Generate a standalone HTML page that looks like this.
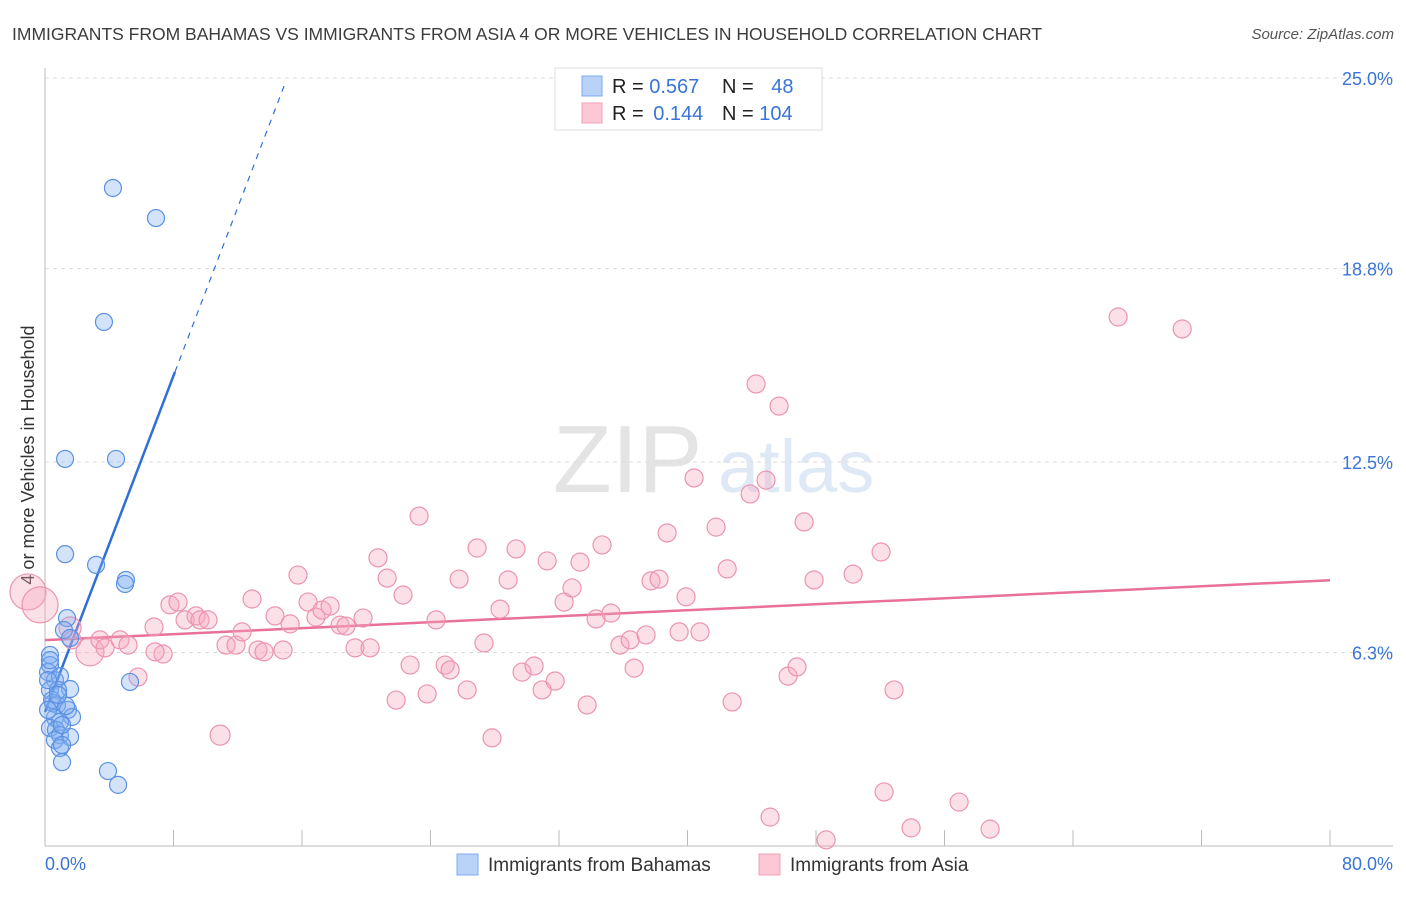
<!DOCTYPE html>
<html><head><meta charset="utf-8"><style>
body{margin:0;background:#fff;font-family:"Liberation Sans",sans-serif;}
svg text{font-family:"Liberation Sans",sans-serif;}
</style></head><body>
<svg id="chart" width="1406" height="892" xmlns="http://www.w3.org/2000/svg">
<text x="12" y="40" font-size="17.5" fill="#3c3c3c">IMMIGRANTS FROM BAHAMAS VS IMMIGRANTS FROM ASIA 4 OR MORE VEHICLES IN HOUSEHOLD CORRELATION CHART</text>
<text x="1394" y="39" font-size="15" fill="#555" font-style="italic" text-anchor="end">Source: ZipAtlas.com</text>
<text x="553" y="492" font-size="96" fill="#e4e4e4" font-family="Liberation Serif">ZIP</text>
<text x="718" y="492" font-size="74" fill="#dfe9f6">atlas</text>
<text transform="translate(34,455) rotate(-90)" font-size="18" fill="#333" text-anchor="middle">4 or more Vehicles in Household</text>
<g id="grid"></g><g id="axes"></g><g id="lines"></g><g id="pts"></g>
<g>
<rect x="555" y="68" width="267" height="62" fill="#fff" stroke="#ddd"/>
<rect x="582" y="76" width="20" height="20" fill="#b8d3f7" stroke="#7eaaf0"/>
<rect x="582" y="103" width="20" height="20" fill="#fcc8d6" stroke="#f0a0b8"/>
<text x="612" y="93" font-size="20" fill="#222">R = <tspan fill="#3a74d8">0.567</tspan></text>
<text x="722" y="93" font-size="20" fill="#222">N = <tspan fill="#3a74d8" dx="12">48</tspan></text>
<text x="612" y="120" font-size="20" fill="#222">R = <tspan fill="#3a74d8" dx="4">0.144</tspan></text>
<text x="722" y="120" font-size="20" fill="#222">N = <tspan fill="#3a74d8">104</tspan></text>
</g>
<g>
<rect x="457" y="854" width="21" height="21" fill="#b8d3f7" stroke="#7eaaf0"/>
<text x="488" y="871" font-size="19" fill="#333">Immigrants from Bahamas</text>
<rect x="759" y="854" width="21" height="21" fill="#fcc8d6" stroke="#f0a0b8"/>
<text x="790" y="871" font-size="19" fill="#333">Immigrants from Asia</text>
</g>
</svg>
<script>
const yTicks=[25.0,18.8,12.5,6.3];
const yTickLabels=["25.0%","18.8%","12.5%","6.3%"];
const xTickVals=[0,8,16,24,32,40,48,56,64,72,80];
const blueX=[4.23,6.91,3.67,1.25,4.42,1.25,3.18,5.04,4.98,1.37,1.18,1.56,0.31,0.31,0.19,0.62,0.93,0.31,1.56,0.81,0.5,0.75,1.43,1.68,0.62,0.93,0.31,0.68,0.93,1.56,0.62,0.93,1.06,3.92,4.55,5.29,0.19,0.44,0.19,1.31,1.06,0.31,0.81,1.06];
const blueY=[21.42,20.44,17.06,12.6,12.6,9.5,9.15,8.66,8.53,7.42,7.03,6.77,6.22,5.89,5.66,5.4,5.53,5.08,5.11,5.08,4.65,4.59,4.43,4.2,4.17,4.04,3.84,3.78,3.61,3.55,3.45,3.19,2.73,2.44,1.99,5.34,5.4,4.75,4.43,4.56,3.29,6.05,4.92,3.94];
const pinkX=[-1.06,-0.31,1.56,1.68,2.8,3.42,4.67,3.74,5.17,5.79,7.78,8.28,8.72,9.4,9.65,10.15,6.79,7.35,6.85,10.9,11.27,11.89,12.27,12.89,13.26,13.64,14.32,14.82,15.26,15.75,16.38,16.87,17.25,17.75,18.37,18.74,19.3,19.8,20.24,20.73,21.3,21.86,22.29,22.73,23.29,23.79,24.35,24.91,25.22,25.78,26.28,26.9,27.33,27.83,28.33,28.83,29.33,29.7,30.45,30.95,31.26,31.76,32.32,32.81,33.31,33.75,34.31,34.68,35.24,35.8,36.43,36.68,37.42,37.73,38.23,38.73,39.48,39.91,40.41,40.78,41.78,42.47,42.78,43.9,44.27,44.89,45.7,46.26,46.82,47.26,47.88,50.31,52.05,52.86,45.14,48.63,52.24,53.92,56.91,58.84,66.81,70.8];
const pinkY=[8.27,7.85,7.1,6.71,6.32,6.71,6.71,6.45,6.54,5.5,7.85,7.94,7.36,7.49,7.36,7.36,7.13,6.25,6.32,3.61,6.54,6.54,6.97,8.04,6.38,6.32,7.49,6.38,7.23,8.82,7.94,7.45,7.68,7.81,7.19,7.16,6.45,7.42,6.45,9.38,8.72,4.75,8.17,5.89,10.74,4.95,7.36,5.89,5.73,8.69,5.08,9.7,6.61,3.52,7.71,8.66,9.67,5.66,5.86,5.08,9.28,5.37,7.94,8.4,9.24,4.59,7.39,9.8,7.58,6.54,6.71,5.79,6.87,8.63,8.69,10.19,6.97,8.11,11.98,6.97,10.38,9.02,4.69,11.46,15.04,11.91,14.32,5.53,5.83,10.55,8.66,8.85,9.57,5.08,0.94,0.2,1.76,0.59,1.43,0.55,17.22,16.83];
const pinkR=[18,18,11,9,14,9,9,9,9,9,9,9,9,9,9,9,9,9,9,10];
const blueTrend=[[0,4.36],[8.09,15.43],[14.9,24.76]];
const pinkTrend=[[0,6.7],[80,8.65]];
const X0=45,X1=1330,Y0=846,YPX=30.72;
const sx=v=>X0+v*(X1-X0)/80, sy=v=>Y0-v*YPX;
const NS="http://www.w3.org/2000/svg";
function mk(tag,attrs,parent){const e=document.createElementNS(NS,tag);for(const k in attrs)e.setAttribute(k,attrs[k]);document.getElementById(parent).appendChild(e);return e;}
yTicks.forEach((t,i)=>{
  const l=mk('line',{x1:45,x2:1393,y1:sy(t),y2:sy(t),stroke:'#dcdcdc','stroke-dasharray':'4,4'},'grid');
  
  
  const tx=mk('text',{x:1393,y:sy(t)+7,'font-size':18,fill:'#3a74d8','text-anchor':'end'},'grid');
  tx.textContent=yTickLabels[i];
  
  
});
const ya=mk('line',{x1:45,x2:45,y1:68,y2:846,stroke:'#bbb'},'axes');


const xa=mk('line',{x1:45,x2:1393,y1:846,y2:846,stroke:'#bbb'},'axes');


xTickVals.forEach(v=>{
  const t=mk('line',{x1:sx(v),x2:sx(v),y1:830,y2:846,stroke:'#bbb'},'axes');
  
  
});
const xl0=mk('text',{x:45,y:870,'font-size':18,fill:'#3a74d8'},'axes');xl0.textContent='0.0%';


const xl1=mk('text',{x:1393,y:870,'font-size':18,fill:'#3a74d8','text-anchor':'end'},'axes');xl1.textContent='80.0%';


pinkX.forEach((x,i)=>{
  const c=mk('circle',{cx:sx(x),cy:sy(pinkY[i]),r:pinkR[i]||9,fill:'rgba(246,165,190,0.35)',stroke:'#eb94b0','stroke-width':1.2},'pts');
  
  
});
blueX.forEach((x,i)=>{
  const c=mk('circle',{cx:sx(x),cy:sy(blueY[i]),r:8.5,fill:'rgba(130,175,240,0.35)',stroke:'#5b91e3','stroke-width':1.2},'pts');
  
  
});
const pl=mk('line',{x1:sx(pinkTrend[0][0]),y1:sy(pinkTrend[0][1]),x2:sx(pinkTrend[1][0]),y2:sy(pinkTrend[1][1]),stroke:'#e8709a','stroke-width':2.5},'lines');


const bl=mk('line',{x1:sx(blueTrend[0][0]),y1:sy(blueTrend[0][1]),x2:sx(blueTrend[1][0]),y2:sy(blueTrend[1][1]),stroke:'#2f6fd6','stroke-width':2.5},'lines');


const bd=mk('line',{x1:sx(blueTrend[1][0]),y1:sy(blueTrend[1][1]),x2:sx(blueTrend[2][0]),y2:sy(blueTrend[2][1]),stroke:'#2f6fd6','stroke-width':1.2,'stroke-dasharray':'6,6'},'lines');


</script>
</body></html>
